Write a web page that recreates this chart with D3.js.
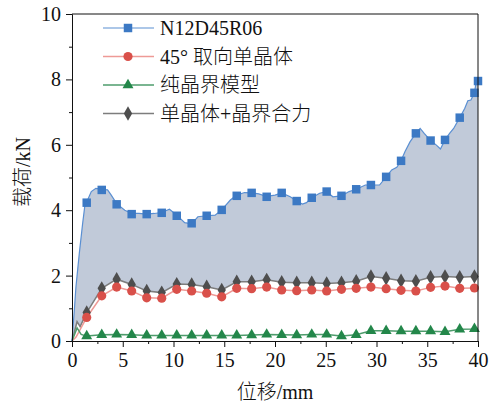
<!DOCTYPE html>
<html><head><meta charset="utf-8">
<script src="https://cdn.jsdelivr.net/npm/d3@7"></script>
<style>body{margin:0;background:#fff}svg{display:block}</style>
</head><body><svg id="c" width="491" height="406"></svg>
<script>
// ---- data ----
const seriesNames = ["N12D45R06", "45° 取向单晶体", "纯晶界模型", "单晶体+晶界合力"];
const xTicks = [0,5,10,15,20,25,30,35,40];
const yTicks = [0,2,4,6,8,10];
const markerX = [1.45,2.93,4.40,5.88,7.36,8.84,10.32,11.79,13.27,14.75,16.23,17.70,19.18,20.66,22.14,23.62,25.09,26.55,28.0,29.45,30.95,32.42,33.88,35.33,36.75,38.2,39.65];
const blueMarkY = [4.23,4.62,4.18,3.88,3.88,3.92,3.83,3.60,3.83,4.01,4.44,4.53,4.41,4.53,4.28,4.38,4.57,4.44,4.64,4.77,5.02,5.51,6.35,6.13,6.15,6.83,7.59];
const blueEnd = [40,7.95];
const redMarkY = [0.72,1.38,1.65,1.53,1.32,1.31,1.58,1.53,1.46,1.35,1.61,1.60,1.65,1.56,1.54,1.56,1.53,1.58,1.61,1.65,1.60,1.55,1.53,1.64,1.68,1.61,1.62];
const blackMarkY = [0.87,1.61,1.89,1.73,1.53,1.48,1.74,1.73,1.66,1.56,1.81,1.81,1.87,1.80,1.78,1.78,1.76,1.78,1.83,1.97,1.92,1.84,1.83,1.95,1.97,1.95,1.97];
const greenMarkY = [0.15,0.19,0.20,0.19,0.17,0.17,0.17,0.17,0.17,0.17,0.17,0.18,0.20,0.19,0.18,0.20,0.20,0.15,0.19,0.31,0.31,0.30,0.30,0.30,0.28,0.36,0.37];
const blueLine = [[0,0],[0.23,0.95],[0.39,1.66],[0.72,2.68],[1.05,3.6],[1.25,4.1],[1.45,4.25],[1.9,4.57],[2.35,4.67],[2.93,4.64],[3.5,4.62],[3.85,4.47],[4.40,4.2],[5.2,4.0],[5.88,3.9],[6.6,3.90],[7.36,3.88],[8.1,3.9],[8.84,3.93],[9.6,4.03],[10.32,3.85],[11.1,3.62],[11.79,3.58],[12.4,3.80],[13.27,3.83],[14.1,3.85],[14.75,4.01],[15.6,4.31],[16.23,4.46],[17.0,4.54],[17.70,4.53],[18.4,4.50],[19.18,4.42],[20.0,4.46],[20.66,4.53],[21.5,4.41],[22.14,4.28],[22.7,4.19],[23.1,4.23],[23.62,4.38],[24.4,4.52],[25.09,4.57],[25.7,4.41],[26.55,4.44],[27.3,4.57],[28.0,4.64],[28.9,4.77],[29.45,4.77],[30.3,4.77],[30.95,5.02],[31.5,5.23],[32.0,5.31],[32.42,5.51],[32.8,5.79],[33.3,6.09],[33.88,6.35],[34.3,6.50],[34.7,6.35],[35.33,6.13],[35.9,5.99],[36.3,5.87],[36.75,6.15],[37.2,6.35],[37.6,6.50],[38.2,6.83],[38.7,7.12],[39.0,7.35],[39.3,7.37],[39.65,7.59],[39.8,7.88],[40,7.95]];
const redStart = [[0,0],[0.4,0.12],[0.8,0.35]];
const blackStart = [[0,0],[0.5,0.59],[0.8,0.44]];
const greenStart = [[0,0],[0.5,0.4],[0.9,0.2]];
const redEnd = [40,1.62], blackEnd = [40,1.98], greenEnd = [40,0.38];

// ---- build ----
const FONT = '"Liberation Serif", Tinos, "Times New Roman", Times, "Noto Sans CJK SC", serif';
const svg = d3.select("#c");
const x = d3.scaleLinear().domain([0,40]).range([72,478]);
const y = d3.scaleLinear().domain([0,10]).range([341,14]);
const zip = (ys) => markerX.map((v,i)=>[v, ys[i]]);
const redPts = redStart.concat(zip(redMarkY), [redEnd]);
const blackPts = blackStart.concat(zip(blackMarkY), [blackEnd]);
const greenPts = greenStart.concat(zip(greenMarkY), [greenEnd]);
const line = d3.line().x(d=>x(d[0])).y(d=>y(d[1]));

// fill between blue and black
const poly = blueLine.concat(blackPts.slice().reverse());
svg.append("path").attr("d", line(poly) + "Z").attr("fill", "#c1cad9").attr("stroke","none");

const styles = [
  {line:"#5a8fd2", mark:"#3c79c4", sym:d3.symbolSquare, size:72, lw:1.2},
  {line:"#ee9a96", mark:"#d9504a", sym:d3.symbolCircle, size:66, lw:1.5},
  {line:"#4e9c6c", mark:"#23874a", sym:d3.symbolTriangle, size:52, lw:1.5},
  {line:"#7d7d7d", mark:"#4e4e4e", sym:d3.symbolDiamond, size:60, lw:1.5}
];
const lines = [blueLine, redPts, greenPts, blackPts];
const marks = [zip(blueMarkY).concat([blueEnd]), zip(redMarkY), zip(greenMarkY), zip(blackMarkY)];
const order = [3,1,2,0];
order.forEach(i=>{
  svg.append("path").attr("d", line(lines[i])).attr("fill","none").attr("stroke",styles[i].line).attr("stroke-width",styles[i].lw);
});
order.forEach(i=>{
  const sym = d3.symbol().type(styles[i].sym).size(styles[i].size);
  svg.append("g").selectAll("path").data(marks[i]).join("path")
    .attr("transform", d=>`translate(${x(d[0])},${y(d[1])})`)
    .attr("d", sym).attr("fill", styles[i].mark);
});

// frame
svg.append("line").attr("x1",72).attr("x2",478).attr("y1",y(10)).attr("y2",y(10)).attr("stroke","#111");
svg.append("line").attr("x1",x(40)).attr("x2",x(40)).attr("y1",y(10)).attr("y2",y(0)).attr("stroke","#111");

// axes
const xAxis = d3.axisBottom(x).tickValues(xTicks).tickSize(6).tickPadding(6).tickFormat(d3.format("d"));
svg.append("g").attr("transform",`translate(0,${y(0)})`).call(xAxis);
const xMinor = d3.axisBottom(x).tickValues([2.5,7.5,12.5,17.5,22.5,27.5,32.5,37.5]).tickSize(3).tickFormat("");
svg.append("g").attr("transform",`translate(0,${y(0)})`).call(xMinor).select(".domain").remove();
const yAxis = d3.axisLeft(y).tickValues(yTicks).tickSize(6).tickPadding(5).tickFormat(d3.format("d"));
svg.append("g").attr("transform",`translate(${x(0)},0)`).call(yAxis);
const yMinor = d3.axisLeft(y).tickValues([1,3,5,7,9]).tickSize(3).tickFormat("");
svg.append("g").attr("transform",`translate(${x(0)},0)`).call(yMinor).select(".domain").remove();
svg.selectAll(".domain, .tick line").attr("stroke","#111");

svg.append("text").attr("x",275).attr("y",399).attr("text-anchor","middle").text("位移/mm");
svg.append("text").attr("transform","translate(23,172) rotate(-90)").attr("text-anchor","middle").attr("dominant-baseline","central").text("载荷/kN");

// legend
const legY = [28,56.5,85,113.5];
[0,1,2,3].forEach(i=>{
  const g = svg.append("g").attr("transform",`translate(0,${legY[i]})`);
  g.append("line").attr("x1",103).attr("x2",154).attr("stroke",styles[i].line).attr("stroke-width",styles[i].lw);
  g.append("path").attr("transform","translate(128,0)").attr("d", d3.symbol().type(styles[i].sym).size(styles[i].size)()).attr("fill",styles[i].mark);
  g.append("text").attr("x",160).attr("dy","0.35em").text(seriesNames[i]);
});
svg.selectAll("text").style("font-family", FONT).style("font-size","20px").style("font-weight","300").style("fill","#111");
</script></body></html>
